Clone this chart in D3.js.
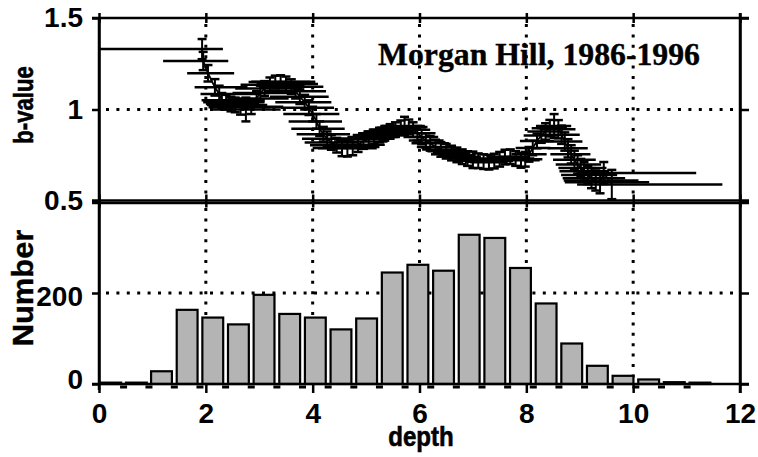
<!DOCTYPE html>
<html>
<head>
<meta charset="utf-8">
<script src="https://cdn.jsdelivr.net/npm/d3@7"></script>
<style>
  body {margin:0; background:#fff;}
  text {font-family:"Liberation Sans", Arial, sans-serif; font-weight:bold; fill:#000;}
</style>
</head>
<body>
<script>
// b-value windows: plotted depth, b, depth range of the window, b error
var depthMid = [1.93,1.95,2.04,2.17,2.25,2.30,2.38,2.47,2.55,2.65,2.75,2.85,2.95,3.02,3.10,3.20,3.30,3.40,3.50,3.60,
  3.68,3.76,3.85,3.93,4.00,4.07,4.13,4.20,4.27,4.35,4.45,4.55,4.65,4.75,4.85,4.95,5.05,5.15,5.25,5.35,
  5.45,5.55,5.65,5.72,5.80,5.88,5.96,6.04,6.12,6.20,6.30,6.40,6.50,6.60,6.70,6.80,6.90,7.00,7.10,7.20,
  7.30,7.40,7.50,7.60,7.70,7.80,7.90,7.98,8.05,8.12,8.20,8.28,8.36,8.44,8.52,8.60,8.66,8.72,8.78,8.84,
  8.90,8.96,9.02,9.08,9.15,9.22,9.30,9.38,9.45,9.60]
var bValue = [1.330,1.265,1.198,1.121,1.085,1.050,1.040,1.030,1.025,1.012,1.000,1.015,1.060,1.090,1.115,1.135,1.150,1.152,1.140,1.125,
  1.100,1.070,1.040,1.010,0.975,0.935,0.895,0.865,0.840,0.820,0.805,0.790,0.788,0.795,0.808,0.825,0.840,0.850,0.860,0.870,
  0.880,0.890,0.900,0.910,0.905,0.890,0.870,0.850,0.830,0.815,0.795,0.782,0.772,0.762,0.752,0.742,0.732,0.725,0.720,0.715,
  0.712,0.718,0.728,0.740,0.742,0.732,0.722,0.728,0.755,0.790,0.828,0.858,0.880,0.898,0.910,0.892,0.862,0.825,0.788,0.755,
  0.725,0.700,0.680,0.662,0.642,0.625,0.612,0.602,0.653,0.590]
var depthLo = [0.00,1.20,1.65,1.79,1.90,1.92,1.95,2.00,2.02,2.05,2.10,2.25,2.40,2.50,2.55,2.65,2.80,2.85,2.95,3.00,
  3.10,3.20,3.30,3.40,3.45,3.55,3.60,3.70,3.80,3.85,3.95,4.00,4.10,4.20,4.30,4.40,4.50,4.65,4.75,4.85,
  4.95,5.05,5.20,5.30,5.40,5.50,5.60,5.70,5.80,5.85,5.95,6.05,6.15,6.25,6.35,6.45,6.55,6.65,6.75,6.85,
  6.95,7.05,7.15,7.25,7.35,7.45,7.55,7.65,7.72,7.80,7.88,7.95,8.02,8.10,8.18,8.25,8.30,8.35,8.40,8.45,
  8.50,8.55,8.60,8.62,8.65,8.68,8.70,8.72,8.95,8.95]
var depthHi = [2.32,2.42,2.53,2.78,3.00,2.95,3.10,3.00,3.15,3.20,3.40,3.45,3.55,3.70,3.80,3.85,3.95,4.05,4.10,4.20,
  4.25,4.30,4.35,4.40,4.50,4.55,4.60,4.70,4.75,4.85,4.95,5.05,5.20,5.25,5.35,5.40,5.50,5.60,5.70,5.80,
  5.90,5.95,6.00,6.10,6.15,6.20,6.30,6.35,6.45,6.55,6.65,6.75,6.85,6.95,7.05,7.15,7.25,7.35,7.45,7.55,
  7.65,7.75,7.85,7.95,8.05,8.15,8.25,8.30,8.38,8.45,8.52,8.60,8.68,8.76,8.84,8.92,9.00,9.05,9.15,9.20,
  9.30,9.40,9.50,9.55,9.70,9.85,10.10,10.30,11.18,11.67]
var bErr = [0.055,0.050,0.045,0.045,0.045,0.040,0.040,0.040,0.040,0.040,0.065,0.040,0.040,0.040,0.040,0.040,0.035,0.035,0.040,0.040,
  0.040,0.040,0.040,0.040,0.040,0.040,0.040,0.040,0.040,0.040,0.040,0.045,0.045,0.045,0.040,0.040,0.040,0.040,0.040,0.040,
  0.040,0.040,0.040,0.050,0.040,0.040,0.040,0.040,0.040,0.040,0.040,0.040,0.040,0.040,0.040,0.040,0.040,0.045,0.040,0.040,
  0.040,0.040,0.040,0.040,0.040,0.040,0.040,0.040,0.040,0.040,0.040,0.040,0.045,0.045,0.065,0.050,0.050,0.050,0.050,0.050,
  0.050,0.050,0.050,0.050,0.050,0.055,0.055,0.060,0.060,0.080]

// event counts per depth bin
var binCenter = [0.22,0.70,1.17,1.65,2.13,2.61,3.09,3.57,4.05,4.53,5.01,5.49,5.97,6.45,6.93,7.41,7.89,8.37,8.85,9.33,9.81,10.29,10.77,11.25]
var counts = [3,3,28,163,146,131,196,154,146,120,144,245,262,249,328,321,255,177,89,40,18,10,4,3]

var xTicks = [0,2,4,6,8,10,12]
var bTicks = [0.5,1,1.5]
var nTicks = [0,200]

var width = 758, height = 457
var svg = d3.select("body").append("svg")
    .attr("width", width)
    .attr("height", height)

var x = d3.scaleLinear().domain([0,12]).range([99,740])
var yB = d3.scaleLinear().domain([0.5,1.5]).range([201,18])
var yN = d3.scaleLinear().domain([0,400]).range([384,202])

var pts = depthMid.map(function(d,i){
  return {d:d, b:bValue[i], lo:depthLo[i], hi:depthHi[i], e:bErr[i]}
})

// dotted grid
var grid = svg.append("g")
    .attr("stroke","#000")
    .attr("stroke-width",3)
    .attr("stroke-dasharray","3,7.4")
grid.selectAll(".vt").data([2,4,6,8,10]).enter().append("line")
    .attr("x1",function(d){return x(d)}).attr("x2",function(d){return x(d)})
    .attr("y1",yB(1.5)+6).attr("y2",yB(0.5))
grid.selectAll(".vb").data([2,4,6,8,10]).enter().append("line")
    .attr("x1",function(d){return x(d)}).attr("x2",function(d){return x(d)})
    .attr("y1",yN(400)+6).attr("y2",yN(0))
grid.append("line").attr("x1",x(0)+7).attr("x2",x(12)).attr("y1",yB(1)).attr("y2",yB(1))
grid.append("line").attr("x1",x(0)+7).attr("x2",x(12)).attr("y1",yN(200)).attr("y2",yN(200))

// b-value windows
var bg = svg.append("g").attr("stroke","#000").attr("fill","none")
bg.selectAll(".h").data(pts).enter().append("line")
    .attr("stroke-width",2.5)
    .attr("x1",function(p){return x(p.lo)}).attr("x2",function(p){return x(p.hi)})
    .attr("y1",function(p){return yB(p.b)}).attr("y2",function(p){return yB(p.b)})
bg.selectAll(".v").data(pts).enter().append("line")
    .attr("stroke-width",2)
    .attr("x1",function(p){return x(p.d)}).attr("x2",function(p){return x(p.d)})
    .attr("y1",function(p){return yB(p.b+p.e)}).attr("y2",function(p){return yB(p.b-p.e)})
bg.selectAll(".ct").data(pts).enter().append("line")
    .attr("stroke-width",2.5)
    .attr("x1",function(p){return x(p.d)-4.5}).attr("x2",function(p){return x(p.d)+4.5})
    .attr("y1",function(p){return yB(p.b+p.e)}).attr("y2",function(p){return yB(p.b+p.e)})
bg.selectAll(".cb").data(pts).enter().append("line")
    .attr("stroke-width",2.5)
    .attr("x1",function(p){return x(p.d)-4.5}).attr("x2",function(p){return x(p.d)+4.5})
    .attr("y1",function(p){return yB(p.b-p.e)}).attr("y2",function(p){return yB(p.b-p.e)})
bg.append("path")
    .datum(pts)
    .attr("stroke-width",1.8)
    .attr("d", d3.line().x(function(p){return x(p.d)}).y(function(p){return yB(p.b)}))

// histogram
var bw = x(0.39) - x(0)
svg.append("g").selectAll("rect").data(counts).enter().append("rect")
    .attr("x",function(c,i){return x(binCenter[i]) - bw/2})
    .attr("width",bw)
    .attr("y",function(c){return yN(c)})
    .attr("height",function(c){return yN(0) - yN(c)})
    .attr("fill","#b4b4b4")
    .attr("stroke","#000")
    .attr("stroke-width",2.2)
svg.append("g").selectAll("rect").data(binCenter.slice(1)).enter().append("rect")
    .attr("x",function(c,i){return (x(binCenter[i]) + x(c))/2 - 3.5})
    .attr("y",yN(0)+1.5)
    .attr("width",7).attr("height",3)
    .attr("fill","#000")

// frames and axes
function styleAxis(g){
  g.select(".domain").attr("stroke-width",2.5)
  g.selectAll(".tick line").attr("stroke-width",2.5)
  g.selectAll(".tick text").style("font-size","28px").style("font-family","'Liberation Sans', Arial, sans-serif").style("font-weight","bold")
}

svg.append("g").attr("transform","translate(" + x(0) + ",0)")
    .call(d3.axisLeft(yB).tickValues(bTicks).tickFormat(d3.format("")).tickSize(7).tickPadding(9).tickSizeOuter(0))
    .call(styleAxis)
svg.append("g").attr("transform","translate(" + x(0) + ",0)")
    .call(d3.axisLeft(yN).tickValues(nTicks).tickSize(7).tickPadding(9).tickSizeOuter(0))
    .call(styleAxis)
    .call(function(g){ g.selectAll(".tick text").attr("dy", function(d){ return d === 0 ? "0.15em" : "0.45em" }) })
svg.append("g").attr("transform","translate(" + x(12) + ",0)")
    .call(d3.axisRight(yB).tickValues(bTicks).tickFormat("").tickSize(9).tickSizeOuter(0))
    .call(styleAxis)
svg.append("g").attr("transform","translate(" + x(12) + ",0)")
    .call(d3.axisRight(yN).tickValues(nTicks).tickFormat("").tickSize(9).tickSizeOuter(0))
    .call(styleAxis)
svg.append("g").attr("transform","translate(0," + yN(0) + ")")
    .call(d3.axisBottom(x).tickValues(xTicks).tickSize(9).tickPadding(10).tickSizeOuter(0))
    .call(styleAxis)
    .call(function(g){ g.select(".domain").attr("d","M92,0H749") })
svg.append("g").attr("transform","translate(0," + yB(1.5) + ")")
    .call(d3.axisTop(x).tickValues(xTicks).tickFormat("").tickSize(5).tickSizeOuter(0))
    .call(styleAxis)
    .call(function(g){ g.select(".domain").attr("d","M92,0H749"); g.selectAll(".tick line").attr("y2",5).attr("y1",-5) })
svg.append("g").attr("transform","translate(0," + (yB(0.5) - 0.5) + ")")
    .call(d3.axisBottom(x).tickValues(xTicks).tickFormat("").tickSize(7).tickSizeOuter(0))
    .call(styleAxis)
    .call(function(g){ g.select(".domain").attr("d","M92,0H749"); g.selectAll(".tick line").attr("y1",-6).attr("y2",7) })
svg.append("line").attr("x1",92).attr("x2",749).attr("y1",yN(400)+1).attr("y2",yN(400)+1)
    .attr("stroke","#000").attr("stroke-width",2.5)
svg.append("line").attr("x1",x(12)).attr("x2",x(12)).attr("y1",13).attr("y2",yN(0)+9)
    .attr("stroke","#000").attr("stroke-width",2.5)
svg.append("line").attr("x1",x(0)).attr("x2",x(0)).attr("y1",yB(1.5)).attr("y2",yN(0)+6)
    .attr("stroke","#000").attr("stroke-width",2.5)

// labels
svg.append("text")
    .attr("x",378).attr("y",65)
    .attr("textLength",322).attr("lengthAdjust","spacingAndGlyphs")
    .attr("stroke","#000").attr("stroke-width",0.4)
    .style("font-family","'Liberation Serif', 'Times New Roman', serif")
    .style("font-size","32px")
    .text("Morgan Hill, 1986-1996")
svg.append("text")
    .attr("transform","translate(33,105) rotate(-90) scale(0.82,1)")
    .attr("text-anchor","middle")
    .attr("stroke","#000").attr("stroke-width",0.6)
    .style("font-size","27px")
    .text("b-value")
svg.append("text")
    .attr("transform","translate(33,288) rotate(-90) scale(1.03,1)")
    .attr("text-anchor","middle")
    .attr("stroke","#000").attr("stroke-width",0.4)
    .style("font-size","30px")
    .text("Number")
svg.append("text")
    .attr("transform","translate(421,446) scale(0.86,1)")
    .attr("text-anchor","middle")
    .attr("stroke","#000").attr("stroke-width",0.6)
    .style("font-size","28px")
    .text("depth")
</script>
</body>
</html>
